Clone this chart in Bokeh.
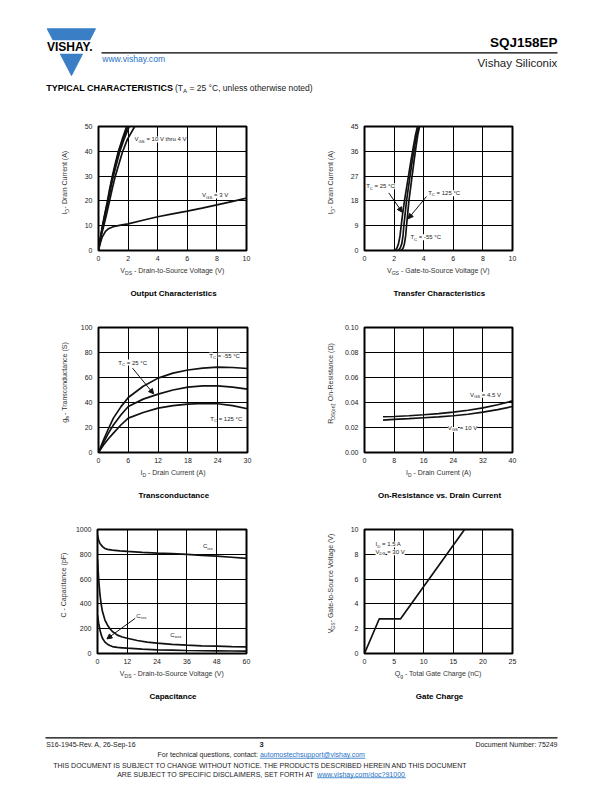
import math
from bokeh.plotting import figure
from bokeh.models import Range1d, FixedTicker, Label, Arrow, NormalHead
from bokeh.layouts import column, row
from bokeh.embed import file_html
from bokeh.resources import INLINE

FONT = "Liberation Sans"
BLUE = "#3a7fc5"
LINK = "#1f72c4"
INK = "#111111"

# ---------------- data ----------------
# Output characteristics (VDS in V, ID in A)
out_id_bundle = [0, 4, 9.4, 14, 19.5, 24.7, 29.6, 34.3, 39.7, 44.8, 50]
out_vds_vgs10 = [0, 0.1, 0.25, 0.4, 0.59, 0.75, 0.92, 1.1, 1.33, 1.6, 1.9]
out_vds_vgs6 = [0, 0.1, 0.26, 0.42, 0.61, 0.78, 0.95, 1.14, 1.37, 1.65, 1.98]
out_vds_vgs5 = [0, 0.1, 0.28, 0.44, 0.64, 0.81, 0.99, 1.19, 1.43, 1.72, 2.08]
out_vds_vgs4 = [0, 0.1, 0.33, 0.52, 0.73, 0.92, 1.12, 1.35, 1.62, 1.95, 2.45]
out_vds_vgs3 = [0, 0.1, 0.25, 0.47, 0.7, 1.0, 1.5, 2, 3, 4, 5, 6, 7, 8, 9, 10]
out_id_vgs3 = [0, 2.5, 5.4, 7.7, 8.9, 9.6, 10.2, 10.75, 12.2, 13.6, 14.8, 15.9, 17.1, 18.4, 19.7, 21.1]

# Transfer characteristics (VGS in V, ID in A)
tr_id = [0, 0.3, 1.0, 2.5, 5.3, 9, 13.5, 18, 23, 28, 33, 37.6, 42, 45]
tr_vgs_25 = [1.98, 2.1, 2.2, 2.3, 2.4, 2.48, 2.58, 2.7, 2.85, 3.0, 3.15, 3.3, 3.45, 3.58]
tr_vgs_125 = [2.21, 2.32, 2.42, 2.52, 2.6, 2.66, 2.75, 2.84, 2.97, 3.1, 3.24, 3.38, 3.52, 3.65]
tr_vgs_m55 = [2.43, 2.53, 2.62, 2.7, 2.78, 2.84, 2.92, 3.0, 3.12, 3.24, 3.36, 3.48, 3.6, 3.72]

# Transconductance (ID in A, gfs in S)
gfs_id = [0, 1, 2, 3, 4.5, 6, 9, 12, 15, 18, 21, 24, 27, 30]
gfs_m55 = [0, 10, 19, 27.5, 36.5, 44, 53, 59.5, 63.5, 66, 67.5, 68.3, 68, 67.2]
gfs_25 = [0, 8, 15.5, 22, 30, 36.8, 42.7, 46.7, 50, 52.3, 53.3, 53.3, 52.3, 50.7]
gfs_125 = [0, 6, 11, 15.5, 22, 27.5, 32, 35.5, 37.5, 38.7, 39.2, 39, 37.5, 35]

# On-resistance (ID in A, RDS(on) in ohm)
ron_id = [5, 8, 12, 16, 20, 24, 28, 32, 36, 40]
ron_vgs45 = [0.0286, 0.0288, 0.0294, 0.0302, 0.0311, 0.0323, 0.0338, 0.0357, 0.0382, 0.0413]
ron_vgs10 = [0.0259, 0.0265, 0.0271, 0.0278, 0.0285, 0.0294, 0.0306, 0.0323, 0.0343, 0.0368]

# Capacitance (VDS in V, C in pF)
cap_vds_iss = [0, 0.5, 1, 2, 3, 4, 6, 9, 12, 18, 24, 30, 36, 42, 48, 54, 60]
cap_iss = [954, 910, 887, 862, 847, 840, 834, 828, 823, 816, 810, 805, 799, 792, 785, 776, 767]
cap_vds_oss = [0, 0.5, 1, 1.5, 2, 3, 4, 5, 6, 8, 10, 12, 16, 20, 24, 30, 36, 42, 48, 54, 60]
cap_oss = [760, 590, 472, 395, 338, 270, 230, 200, 177, 148, 133, 123, 105, 92, 83, 74, 67, 62, 59, 56, 54]
cap_vds_rss = [0, 0.5, 1, 1.5, 2, 3, 4, 5, 6, 8, 10, 12, 18, 24, 30, 36, 42, 48, 54, 60]
cap_rss = [311, 240, 190, 150, 123, 92, 75, 64, 56, 49, 46, 43, 35, 30, 27, 24, 22, 21, 20, 19]

# Gate charge (Qg in nC, VGS in V)
gc_qg = [0, 2.5, 6.1, 16.9]
gc_vgs = [0, 2.8, 2.8, 10]

# axis ticks and tick labels
out_xt = [0, 2, 4, 6, 8, 10]; out_xl = ["0", "2", "4", "6", "8", "10"]
out_yt = [0, 10, 20, 30, 40, 50]; out_yl = ["0", "10", "20", "30", "40", "50"]
tr_xt = [0, 2, 4, 6, 8, 10]; tr_xl = ["0", "2", "4", "6", "8", "10"]
tr_yt = [0, 9, 18, 27, 36, 45]; tr_yl = ["0", "9", "18", "27", "36", "45"]
gfs_xt = [0, 6, 12, 18, 24, 30]; gfs_xl = ["0", "6", "12", "18", "24", "30"]
gfs_yt = [0, 20, 40, 60, 80, 100]; gfs_yl = ["0", "20", "40", "60", "80", "100"]
ron_xt = [0, 8, 16, 24, 32, 40]; ron_xl = ["0", "8", "16", "24", "32", "40"]
ron_yt = [0, 0.02, 0.04, 0.06, 0.08, 0.1]; ron_yl = ["0.00", "0.02", "0.04", "0.06", "0.08", "0.10"]
cap_xt = [0, 12, 24, 36, 48, 60]; cap_xl = ["0", "12", "24", "36", "48", "60"]
cap_yt = [0, 200, 400, 600, 800, 1000]; cap_yl = ["0", "200", "400", "600", "800", "1000"]
gc_xt = [0, 5, 10, 15, 20, 25]; gc_xl = ["0", "5", "10", "15", "20", "25"]
gc_yt = [0, 2, 4, 6, 8, 10]; gc_yl = ["0", "2", "4", "6", "8", "10"]

# ---------------- text metrics ----------------
REG = {' ': 278, '!': 278, '(': 333, ')': 333, ',': 278, '-': 333, '.': 278, '/': 278, ':': 278,
       '=': 584, '?': 556, '@': 1015, '°': 400, 'Ω': 768, '_': 556}
for ch in "0123456789":
    REG[ch] = 556
REG.update(dict(zip("ABCDEFGHIJKLMNOPQRSTUVWXYZ",
                    [667, 667, 722, 722, 667, 611, 778, 722, 278, 500, 667, 556, 833, 722, 778, 667, 778, 722, 667, 611, 722, 667, 944, 667, 667, 611])))
REG.update(dict(zip("abcdefghijklmnopqrstuvwxyz",
                    [556, 556, 500, 556, 556, 278, 556, 556, 222, 222, 500, 222, 833, 556, 556, 556, 556, 333, 500, 278, 556, 500, 722, 500, 500, 500])))
BOLD = {' ': 278, ',': 278, '-': 333, '.': 278, '(': 333, ')': 333}
for ch in "0123456789":
    BOLD[ch] = 556
BOLD.update(dict(zip("ABCDEFGHIJKLMNOPQRSTUVWXYZ",
                     [722, 722, 722, 722, 667, 611, 778, 722, 278, 556, 722, 611, 833, 722, 778, 667, 778, 722, 667, 611, 722, 667, 944, 667, 667, 611])))
BOLD.update(dict(zip("abcdefghijklmnopqrstuvwxyz",
                     [556, 611, 556, 611, 556, 333, 611, 611, 278, 278, 556, 278, 889, 611, 611, 611, 611, 389, 556, 333, 611, 556, 778, 556, 556, 500])))


def tw(s, size, bold=False):
    t = BOLD if bold else REG
    return sum(t.get(c, 556) for c in s) * size / 1000.0


class Map:
    """maps page pixel positions to a figure's data coordinates"""
    def __init__(self, fig, l, t, r, b, xr, yr):
        self.fig = fig
        self.l, self.t, self.r, self.b = l, t, r, b
        self.x0, self.x1 = xr
        self.y0, self.y1 = yr

    def d(self, px, py):
        x = self.x0 + (px - self.l) / (self.r - self.l) * (self.x1 - self.x0)
        y = self.y0 + (self.b - py) / (self.b - self.t) * (self.y1 - self.y0)
        return x, y

    def p(self, x, y):
        px = self.l + (x - self.x0) / (self.x1 - self.x0) * (self.r - self.l)
        py = self.b - (y - self.y0) / (self.y1 - self.y0) * (self.b - self.t)
        return px, py


def rich(m, px, py, parts, size, align="left", vertical=False, color=INK, bg=None,
         bold=False, font=FONT):
    """(px, py): page position of the visual centre line of the text"""
    items = []
    for part in parts:
        if isinstance(part, str):
            txt, sub, opts = part, False, {}
        else:
            txt, sub = part[0], part[1]
            opts = part[2] if len(part) > 2 else {}
        sz = size * 0.72 if sub else size
        b = opts.get("bold", bold)
        items.append((txt, sub, sz, tw(txt, sz, b), opts, b))
    total = sum(i[3] for i in items)
    cur = -{"left": 0, "center": total / 2, "right": total}[align]
    for txt, sub, sz, w, opts, b in items:
        lead = len(txt) - len(txt.lstrip(" "))
        core = txt.strip(" ")
        adv = cur + tw(" " * lead, sz, b)
        cw = tw(core, sz, b)
        shift = 0.3 * size if sub else 0
        if vertical:
            ax, ay = px + shift, py - adv
        else:
            ax, ay = px + adv, py + shift
        x, y = m.d(ax, ay)
        lab = Label(x=x, y=y, text=core, angle=(math.pi / 2 if vertical else 0),
                    text_align="left", text_baseline="alphabetic",
                    text_font=opts.get("font", font), text_font_size=f"{sz:.2f}px",
                    text_color=opts.get("color", color),
                    text_font_style="bold" if b else "normal")
        if bg:
            lab.background_fill_color = bg
        m.fig.add_layout(lab)
        if opts.get("underline"):
            uy = ay + 0.36 * sz + 1.2
            x0, y0 = m.d(ax, uy)
            x1, y1 = m.d(ax + cw, uy)
            m.fig.segment(x0=[x0], y0=[y0], x1=[x1], y1=[y1],
                          line_color=opts.get("color", color), line_width=0.8)
        cur += w


def text_fig(x0, y0, x1, y1):
    """blank figure whose data coordinates are page pixels"""
    p = figure(width=x1 - x0, height=y1 - y0, x_range=Range1d(x0, x1), y_range=Range1d(y1, y0),
               output_backend="svg", toolbar_location=None, title=None,
               x_axis_type=None, y_axis_type=None, min_border=0)
    p.outline_line_color = None
    p.background_fill_color = "white"
    p.border_fill_color = "white"
    return p, Map(p, x0, y0, x1, y1, (x0, x1), (y1, y0))


def chart(gx, gy, gw, gh, frame, xr, yr, xt, xl, yt, yl):
    l, t, r, b = frame
    p = figure(width=gw, height=gh, x_range=Range1d(*xr), y_range=Range1d(*yr),
               output_backend="svg", toolbar_location=None, title=None,
               min_border_left=l - gx, min_border_right=gx + gw - r,
               min_border_top=t - gy, min_border_bottom=gy + gh - b)
    p.background_fill_color = "white"
    p.border_fill_color = "white"
    p.outline_line_color = "black"
    p.outline_line_width = 2
    p.xaxis.ticker = FixedTicker(ticks=xt)
    p.yaxis.ticker = FixedTicker(ticks=yt)
    p.xgrid.ticker = FixedTicker(ticks=xt)
    p.ygrid.ticker = FixedTicker(ticks=yt)
    p.xaxis.major_label_overrides = dict(zip(xt, xl))
    p.yaxis.major_label_overrides = dict(zip(yt, yl))
    for ax in (p.xaxis, p.yaxis):
        ax.axis_line_color = None
        ax.major_tick_line_color = None
        ax.minor_tick_line_color = None
        ax.major_tick_in = 0
        ax.major_tick_out = 0
        ax.major_label_text_font = FONT
        ax.major_label_text_font_size = "7px"
        ax.major_label_text_color = "#222222"
    p.xaxis.major_label_standoff = 5
    p.yaxis.major_label_standoff = 6
    p.grid.grid_line_color = "black"
    p.grid.grid_line_width = 1
    return p, Map(p, l, t, r, b, xr, yr)


def decorate(cm, band, ylab_map, xlab, ylab, title):
    cx = (cm.l + cm.r) / 2
    cy = (cm.t + cm.b) / 2
    rich(band, cx, cm.b + 20, xlab, 7, align="center", color="#333333")
    rich(ylab_map, cm.l - 34, cy, ylab, 7, align="center", vertical=True, color="#333333")
    rich(band, cx + 1, cm.b + 43, [title], 8, align="center", bold=True, color="black")


def note(m, x, y, parts, size=6):
    px, py = m.p(x, y)
    rich(m, px, py, parts, size, align="left", bg="white", color="#222222")


def arrow(m, x0, y0, x1, y1):
    m.fig.add_layout(Arrow(end=NormalHead(size=5, fill_color=INK, line_color=INK, line_width=1),
                           x_start=x0, y_start=y0, x_end=x1, y_end=y1,
                           line_color=INK, line_width=1))


LW = 1.7
VGS = [("V", False), ("GS", True)]
VDS = [("V", False), ("DS", True)]
ID = [("I", False), ("D", True)]
TC = [("T", False), ("C", True)]

# page columns: y-label strip | chart | y-label strip | chart
LX0, LX1, RX0, RX1 = 71, 306, 338, 612

# ---------------- header ----------------
hdr, hm = text_fig(0, 0, 612, 110)
hdr.patch([46.7, 95.0, 71.0], [28.3, 28.3, 75.0], color=BLUE, line_color=BLUE)
hdr.quad(left=[43], right=[99], top=[39.8], bottom=[53.2], color="white", line_color=None)
rich(hm, 70.5, 46.4, ["VISHAY."], 12, align="center", bold=True, color="black")
hdr.segment(x0=[101], y0=[52.3], x1=[557], y1=[52.3], line_color="black", line_width=1.2)
rich(hm, 557, 41.7, ["SQJ158EP"], 13.5, align="right", bold=True, color="black")
rich(hm, 557, 62, ["Vishay Siliconix"], 11.5, align="right", color="#222222")
rich(hm, 101.7, 58.5, ["www.vishay.com"], 8.6, align="left", color=LINK)
rich(hm, 45.7, 87.7, ["TYPICAL CHARACTERISTICS"], 9, align="left", bold=True, color="black")
rich(hm, 174.5, 87.7, [("(T", False), ("A", True), (" = 25 °C, unless otherwise noted)", False)],
     8.5, align="left", color="#222222")

# ---------------- row 1 ----------------
T1, S1, B1 = 110, 266, 312
yl1, yl1m = text_fig(0, T1, LX0, S1)
yr1, yr1m = text_fig(LX1, T1, RX0, S1)
bd1, bd1m = text_fig(0, S1, 612, B1)

c1, m1 = chart(LX0, T1, LX1 - LX0, S1 - T1, (98, 126, 246, 250), (0, 10), (0, 50), out_xt, out_xl, out_yt, out_yl)
for xs in (out_vds_vgs10, out_vds_vgs6, out_vds_vgs5, out_vds_vgs4):
    c1.line(xs, out_id_bundle, line_color=INK, line_width=LW)
c1.line(out_vds_vgs3, out_id_vgs3, line_color=INK, line_width=LW)
note(m1, 2.43, 44.8, VGS + [(" = 10 V thru 4 V", False)])
note(m1, 7.0, 22.2, VGS + [(" = 3 V", False)])
decorate(m1, bd1m, yl1m, VDS + [(" - Drain-to-Source Voltage (V)", False)],
         ID + [(" - Drain Current (A)", False)], "Output Characteristics")

c2, m2 = chart(RX0, T1, RX1 - RX0, S1 - T1, (364, 126, 512, 250), (0, 10), (0, 45), tr_xt, tr_xl, tr_yt, tr_yl)
for xs in (tr_vgs_25, tr_vgs_125, tr_vgs_m55):
    c2.line(xs, tr_id, line_color=INK, line_width=LW)
note(m2, 0.11, 23.3, TC + [(" = 25 °C", False)])
note(m2, 4.3, 20.8, TC + [(" = 125 °C", False)])
note(m2, 3.1, 4.8, TC + [(" = -55 °C", False)])
arrow(m2, 1.64, 20.9, 2.55, 13.9)
arrow(m2, 4.19, 19.6, 2.95, 11.5)
decorate(m2, bd1m, yr1m, VGS + [(" - Gate-to-Source Voltage (V)", False)],
         ID + [(" - Drain Current (A)", False)], "Transfer Characteristics")

# ---------------- row 2 ----------------
T2, S2, B2 = 312, 468, 512
yl2, yl2m = text_fig(0, T2, LX0, S2)
yr2, yr2m = text_fig(LX1, T2, RX0, S2)
bd2, bd2m = text_fig(0, S2, 612, B2)

c3, m3 = chart(LX0, T2, LX1 - LX0, S2 - T2, (98, 327, 247, 452), (0, 30), (0, 100), gfs_xt, gfs_xl, gfs_yt, gfs_yl)
for ys in (gfs_m55, gfs_25, gfs_125):
    c3.line(gfs_id, ys, line_color=INK, line_width=LW)
note(m3, 22.3, 77.6, TC + [(" = -55 °C", False)])
note(m3, 4.0, 72.0, TC + [(" = 25 °C", False)])
note(m3, 22.5, 26.7, TC + [(" = 125 °C", False)])
arrow(m3, 6.85, 67.5, 11.1, 46.9)
decorate(m3, bd2m, yl2m, ID + [(" - Drain Current (A)", False)],
         [("g", False), ("fs", True), (" - Transconductance (S)", False)], "Transconductance")

c4, m4 = chart(RX0, T2, RX1 - RX0, S2 - T2, (364, 327, 512, 452), (0, 40), (0, 0.1), ron_xt, ron_xl, ron_yt, ron_yl)
for ys in (ron_vgs45, ron_vgs10):
    c4.line(ron_id, ys, line_color=INK, line_width=LW)
note(m4, 28.5, 0.0463, VGS + [(" = 4.5 V", False)])
note(m4, 22.5, 0.0198, VGS + [(" = 10 V", False)])
decorate(m4, bd2m, yr2m, ID + [(" - Drain Current (A)", False)],
         [("R", False), ("DS(on)", True), (" - On-Resistance (Ω)", False)],
         "On-Resistance vs. Drain Current")

# ---------------- row 3 ----------------
T3, S3, B3 = 512, 669, 712
yl3, yl3m = text_fig(0, T3, LX0, S3)
yr3, yr3m = text_fig(LX1, T3, RX0, S3)
bd3, bd3m = text_fig(0, S3, 612, B3)

c5, m5 = chart(LX0, T3, LX1 - LX0, S3 - T3, (97, 529, 246, 653), (0, 60), (0, 1000), cap_xt, cap_xl, cap_yt, cap_yl)
for xs, ys in [(cap_vds_iss, cap_iss), (cap_vds_oss, cap_oss), (cap_vds_rss, cap_rss)]:
    c5.line(xs, ys, line_color=INK, line_width=LW)
note(m5, 42.5, 864, [("C", False), ("iss", True)])
note(m5, 29.3, 150, [("C", False), ("oss", True)])
note(m5, 15.6, 306, [("C", False), ("rss", True)])
arrow(m5, 15.2, 284, 3.8, 118)
decorate(m5, bd3m, yl3m, VDS + [(" - Drain-to-Source Voltage (V)", False)],
         [("C - Capacitance (pF)", False)], "Capacitance")

c6, m6 = chart(RX0, T3, RX1 - RX0, S3 - T3, (364, 529, 512, 653), (0, 25), (0, 10), gc_xt, gc_xl, gc_yt, gc_yl)
c6.line(gc_qg, gc_vgs, line_color=INK, line_width=LW)
note(m6, 1.86, 8.8, ID + [(" = 1.5 A", False)])
note(m6, 1.86, 8.17, VDS + [(" = 30 V", False)])
decorate(m6, bd3m, yr3m, [("Q", False), ("g", True), (" - Total Gate Charge (nC)", False)],
         VGS + [(" - Gate-to-Source  Voltage (V)", False)], "Gate Charge")

# ---------------- footer ----------------
ftr, fm = text_fig(0, 712, 612, 792)
ftr.segment(x0=[45], y0=[737.3], x1=[557], y1=[737.3], line_color="black", line_width=1.2)
rich(fm, 45.7, 743.5, ["S16-1945-Rev. A, 26-Sep-16"], 7, align="left", color="#222222")
rich(fm, 261, 743.5, ["3"], 7.5, align="center", bold=True, color="#222222")
rich(fm, 557, 743.5, ["Document Number: 75249"], 7, align="right", color="#222222")
rich(fm, 261, 754, [("For technical questions, contact: ", False),
                    ("automostechsupport@vishay.com", False, {"color": LINK, "underline": True})],
     7, align="center", color="#222222")
rich(fm, 260, 764.5, ["THIS DOCUMENT IS SUBJECT TO CHANGE WITHOUT NOTICE. THE PRODUCTS DESCRIBED HEREIN AND THIS DOCUMENT"],
     7, align="center", color="#222222")
rich(fm, 261, 773.5, [("ARE SUBJECT TO SPECIFIC DISCLAIMERS, SET FORTH AT ", False),
                      ("www.vishay.com/doc?91000", False, {"color": LINK, "underline": True})],
     7, align="center", color="#222222")

page = column(hdr,
              row(yl1, c1, yr1, c2), bd1,
              row(yl2, c3, yr2, c4), bd2,
              row(yl3, c5, yr3, c6), bd3,
              ftr)
open("out.html", "w").write(file_html(page, INLINE))
